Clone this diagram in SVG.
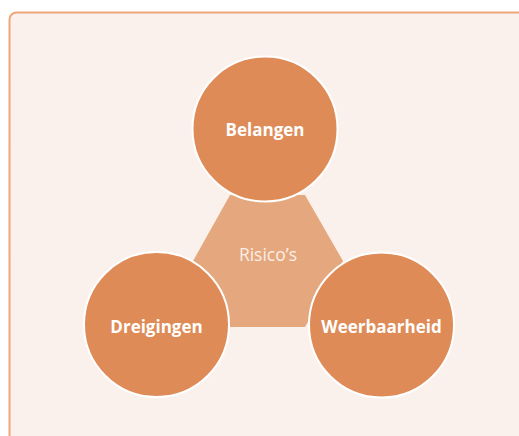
<svg xmlns="http://www.w3.org/2000/svg" width="519" height="436" viewBox="0 0 519 436">
<style>
.node{fill:#DE8B57;stroke:#FFFFFF;stroke-width:2}
.lbl{font-family:"Open Sans","Liberation Sans",sans-serif;font-weight:bold;font-size:17px;fill:#FFFFFF;text-anchor:middle;dominant-baseline:central}
</style>
<rect x="9.5" y="12.5" width="530" height="450" rx="7" fill="#FBF1EC" stroke="#EDA77A" stroke-width="2"/>
<g id="risicos">
<polygon points="230,195 305,195 343,261 305,327 230,327 193,261" fill="#E5A87E"/>
<text x="268" y="254" font-family="Open Sans, Liberation Sans, sans-serif" font-size="17.5" fill="#FBEDE5" text-anchor="middle" dominant-baseline="central">Risico’s</text>
</g>
<g id="connectors"></g>
<g id="belangen">
<circle class="node" cx="265" cy="129" r="72.5"/>
<text class="lbl" x="265" y="129">Belangen</text>
</g>
<g id="dreigingen">
<circle class="node" cx="156.5" cy="324.5" r="72.5"/>
<text class="lbl" x="156.5" y="326">Dreigingen</text>
</g>
<g id="weerbaarheid">
<circle class="node" cx="381.5" cy="325" r="72.5"/>
<text class="lbl" x="381.5" y="326">Weerbaarheid</text>
</g>
</svg>
